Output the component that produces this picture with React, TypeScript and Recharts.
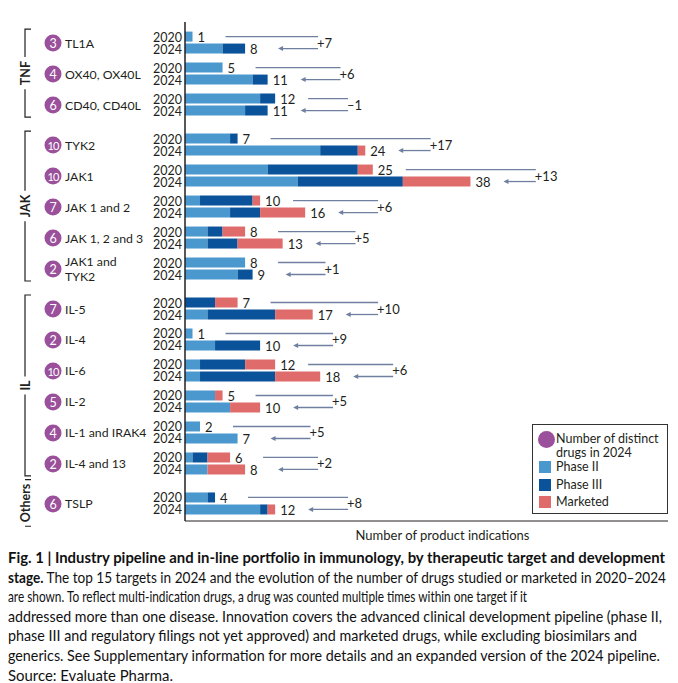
import React from 'react';
import { BarChart, Bar, XAxis, YAxis, Legend } from 'recharts';

// Targets, top to bottom, with their therapeutic group
const targets = [
  'TL1A', 'OX40, OX40L', 'CD40, CD40L',
  'TYK2', 'JAK1', 'JAK 1 and 2', 'JAK 1, 2 and 3', 'JAK1 and\nTYK2',
  'IL-5', 'IL-4', 'IL-6', 'IL-2', 'IL-1 and IRAK4', 'IL-4 and 13',
  'TSLP',
];
const groups = [
  'TNF', 'TNF', 'TNF',
  'JAK', 'JAK', 'JAK', 'JAK', 'JAK',
  'IL', 'IL', 'IL', 'IL', 'IL', 'IL',
  'Others',
];
const groupNames = ['TNF', 'JAK', 'IL', 'Others'];
const distinctDrugs2024 = [3, 4, 6, 10, 10, 7, 6, 2, 7, 2, 10, 5, 4, 2, 6];

// Number of product indications by stage
const phase2_2020 = [1, 5, 10, 6, 11, 2, 3, 8, 0, 1, 2, 4, 2, 1, 3];
const phase3_2020 = [0, 0, 2, 1, 12, 7, 2, 0, 4, 0, 6, 0, 0, 2, 1];
const marketed_2020 = [0, 0, 0, 0, 2, 1, 3, 0, 3, 0, 4, 1, 0, 3, 0];
const phase2_2024 = [5, 9, 8, 18, 15, 6, 3, 7, 3, 4, 2, 6, 7, 3, 10];
const phase3_2024 = [3, 2, 3, 5, 14, 4, 4, 2, 9, 6, 10, 0, 0, 0, 1];
const marketed_2024 = [0, 0, 0, 1, 9, 6, 6, 0, 5, 0, 6, 4, 0, 5, 1];

const captionLines = [
  { bold: 'Fig. 1 | Industry pipeline and in-line portfolio in immunology, by therapeutic target and development', text: '', width: 657 },
  { bold: 'stage.', text: ' The top 15 targets in 2024 and the evolution of the number of drugs studied or marketed in 2020–2024', width: 658 },
  { bold: '', text: 'are shown. To reflect multi-indication drugs, a drug was counted multiple times within one target if it', width: 519 },
  { bold: '', text: 'addressed more than one disease. Innovation covers the advanced clinical development pipeline (phase II,', width: 654 },
  { bold: '', text: 'phase III and regulatory filings not yet approved) and marketed drugs, while excluding biosimilars and', width: 629 },
  { bold: '', text: 'generics. See Supplementary information for more details and an expanded version of the 2024 pipeline.', width: 652 },
  { bold: '', text: 'Source: Evaluate Pharma.', width: 165 },
];

const C = {
  phase2: '#4b98cf',
  phase3: '#0a5299',
  marketed: '#e06b6b',
  purple: '#9a509a',
  arrow: '#6f7fa0',
  text: '#231f20',
};

const FONT = 'Lato, "Open Sans", sans-serif';
const CAP_SIZE = 14.5;
const W = 678;
const H = 545;
const MARGIN = { top: 22, right: 10, bottom: 0, left: 0 };
const Y_AXIS_W = 185;
const X_AXIS_H = 24;
const X_MAX = 64.3;
const Y_MIN = -0.68;
const Y_MAX = 15.42;
const GROUP_GAP = 0.29;
const BAR = 10;
const BAR_GAP = 2;
const PLOT_LEFT = MARGIN.left + Y_AXIS_W;
const PLOT_W = W - PLOT_LEFT - MARGIN.right;
const PLOT_H = H - MARGIN.top - MARGIN.bottom - X_AXIS_H;
const PPU = PLOT_W / X_MAX;
const ROW_PX = PLOT_H / (Y_MAX - Y_MIN);

const data = targets.map((name, i) => {
  const g = groupNames.indexOf(groups[i]);
  return {
    name,
    group: groups[i],
    distinct: distinctDrugs2024[i],
    pos: i + g * GROUP_GAP,
    p2_20: phase2_2020[i],
    p3_20: phase3_2020[i],
    m_20: marketed_2020[i],
    p2_24: phase2_2024[i],
    p3_24: phase3_2024[i],
    m_24: marketed_2024[i],
    total20: phase2_2020[i] + phase3_2020[i] + marketed_2020[i],
    total24: phase2_2024[i] + phase3_2024[i] + marketed_2024[i],
  };
});

let ctx: CanvasRenderingContext2D | null = null;
function textWidth(s: string, font: string) {
  if (!ctx) ctx = document.createElement('canvas').getContext('2d');
  if (!ctx) return s.length * 7;
  ctx.font = font;
  return ctx.measureText(s).width;
}

function GroupBracket({ row, y }: { row: any; y: number }) {
  const members = data.filter(d => d.group === row.group);
  const last = members[members.length - 1];
  let top = y - 14;
  let bottom = y + (last.pos - row.pos) * ROW_PX + 12;
  const mid = (top + bottom) / 2;
  const len = textWidth(row.group, `700 12.5px ${FONT}`);
  if (bottom - top < len + 8) {
    top = mid - len / 2 - 4;
    bottom = mid + len / 2 + 4;
  }
  const gapTop = mid - len / 2 - 4;
  const gapBottom = mid + len / 2 + 4;
  return (
    <g>
      <path
        d={`M31,${top} H25 V${Math.max(top, gapTop)} M25,${Math.min(bottom, gapBottom)} V${bottom} H31`}
        stroke={C.text}
        strokeWidth={1.2}
        fill="none"
      />
      <text
        x={26}
        y={mid}
        transform={`rotate(-90 26 ${mid})`}
        textAnchor="middle"
        dominantBaseline="central"
        fontFamily={FONT}
        fontWeight={700}
        fontSize={12.5}
        fill={C.text}
      >
        {row.group}
      </text>
    </g>
  );
}

// change annotation: 2020 line, 2024 arrow, totals and the +N label
function ChangeArrow({ row, y }: { row: any; y: number }) {
  const end20 = PLOT_LEFT + row.total20 * PPU;
  const end24 = PLOT_LEFT + row.total24 * PPU;
  const y20 = y - (BAR + BAR_GAP) / 2 - 0.5;
  const y24 = y + (BAR + BAR_GAP) / 2 - 0.5;
  const diff = row.total24 - row.total20;
  const label = diff >= 0 ? `+${diff}` : `–${-diff}`;
  const lw = textWidth(label, `13px ${FONT}`);
  const right = Math.max(end20, end24) + 88 - lw;
  const head = end24 + 33;
  return (
    <g>
      <text x={end20 + 5} y={y20 + 0.5} dominantBaseline="central" fontFamily={FONT} fontSize={13} fill={C.text}>
        {row.total20}
      </text>
      <text x={end24 + 5} y={y24 + 0.5} dominantBaseline="central" fontFamily={FONT} fontSize={13} fill={C.text}>
        {row.total24}
      </text>
      <line x1={end20 + 33} x2={right} y1={y20} y2={y20} stroke={C.arrow} strokeWidth={1.3} />
      <line x1={right} x2={head + 4} y1={y24} y2={y24} stroke={C.arrow} strokeWidth={1.3} />
      <path d={`M${head},${y24} L${head + 5},${y24 - 2.5} L${head + 5},${y24 + 2.5} Z`} fill={C.arrow} />
      <text x={right - 1} y={y - 0.5} dominantBaseline="central" fontFamily={FONT} fontSize={13} fill={C.text}>
        {label}
      </text>
    </g>
  );
}

function TargetTick(props: any) {
  const { y, payload } = props;
  const row = data.find(d => Math.abs(d.pos - payload.value) < 1e-6);
  if (!row) return null;
  const lines = row.name.split('\n');
  const isFirst = data.find(d => d.group === row.group) === row;
  const big = row.distinct >= 10;
  return (
    <g>
      {isFirst && <GroupBracket row={row} y={y} />}
      <circle cx={53} cy={y} r={8.5} fill={C.purple} />
      <text
        x={53}
        y={y + 0.5}
        textAnchor="middle"
        dominantBaseline="central"
        fontFamily={FONT}
        fontSize={big ? 11 : 12.5}
        letterSpacing={big ? -1 : 0}
        fill="#fff"
      >
        {row.distinct}
      </text>
      {lines.map((l, k) => (
        <text
          key={k}
          x={65}
          y={y + (k - (lines.length - 1) / 2) * 15}
          dominantBaseline="central"
          fontFamily={FONT}
          fontSize={12.3}
          fill={C.text}
        >
          {l}
        </text>
      ))}
      <text x={182} y={y - 6} textAnchor="end" dominantBaseline="central" fontFamily={FONT} fontSize={12.5} fill={C.text}>2020</text>
      <text x={182} y={y + 6} textAnchor="end" dominantBaseline="central" fontFamily={FONT} fontSize={12.5} fill={C.text}>2024</text>
      <ChangeArrow row={row} y={y} />
    </g>
  );
}

function LegendBox() {
  const items = [
    { label: 'Phase II', color: C.phase2, top: 36 },
    { label: 'Phase III', color: C.phase3, top: 54 },
    { label: 'Marketed', color: C.marketed, top: 71 },
  ];
  const txt: React.CSSProperties = {
    position: 'absolute',
    left: 23,
    fontFamily: FONT,
    fontSize: 12.5,
    color: C.text,
    lineHeight: '14px',
    whiteSpace: 'nowrap',
  };
  return (
    <div style={{ position: 'relative', width: 134, height: 88, border: '1px solid #333', background: '#fff' }}>
      <div style={{ position: 'absolute', left: 5, top: 6, width: 17, height: 17, borderRadius: '50%', background: C.purple }} />
      <div style={{ ...txt, top: 7 }}>
        Number of distinct
        <br />
        drugs in 2024
      </div>
      {items.map(it => (
        <React.Fragment key={it.label}>
          <div style={{ position: 'absolute', left: 6, top: it.top, width: 12, height: 12, background: it.color }} />
          <div style={{ ...txt, top: it.top - 1 }}>{it.label}</div>
        </React.Fragment>
      ))}
    </div>
  );
}

function Caption() {
  // condense all lines by a common factor, then fit each line to its measured width
  const natural = captionLines.map(
    ln => textWidth(ln.bold, `700 ${CAP_SIZE}px Lato`) + textWidth(ln.text, `${CAP_SIZE}px Lato`)
  );
  const full = [0, 1, 3, 4, 5];
  const k = full.reduce((s, i) => s + captionLines[i].width / natural[i], 0) / full.length;
  return (
    <svg width={W} height={143} style={{ position: 'absolute', left: 0, top: 540 }}>
      <g transform={`scale(${k},1)`}>
        {captionLines.map((ln, i) => (
          <text
            key={i}
            x={8 / k}
            y={23 + i * 19.6}
            textLength={ln.width / k}
            lengthAdjust="spacingAndGlyphs"
            fontFamily="Lato, sans-serif"
            fontSize={CAP_SIZE}
            fill="#111"
          >
            {ln.bold && <tspan fontWeight={700}>{ln.bold}</tspan>}
            {ln.text && <tspan>{ln.text}</tspan>}
          </text>
        ))}
      </g>
    </svg>
  );
}

export default function App() {
  return (
    <div style={{ position: 'absolute', left: 0, top: 0, width: W, height: 683, overflow: 'hidden', background: '#fff' }}>
      <BarChart
        width={W}
        height={H}
        data={data}
        layout="vertical"
        margin={MARGIN}
        barGap={BAR_GAP}
        barSize={BAR}
      >
        <XAxis
          type="number"
          domain={[0, X_MAX]}
          allowDataOverflow
          tick={false}
          tickLine={false}
          axisLine={{ stroke: C.text, strokeWidth: 1 }}
          height={X_AXIS_H}
          label={{
            value: 'Number of product indications',
            position: 'center',
            dx: 16,
            dy: 2,
            fill: C.text,
            fontSize: 13,
            fontFamily: FONT,
          }}
        />
        <YAxis
          type="number"
          dataKey="pos"
          domain={[Y_MIN, Y_MAX]}
          allowDataOverflow
          ticks={data.map(d => d.pos)}
          interval={0}
          width={Y_AXIS_W}
          tickLine={false}
          axisLine={{ stroke: C.text, strokeWidth: 1.5 }}
          tick={<TargetTick />}
        />
        <Legend
          layout="vertical"
          align="center"
          verticalAlign="middle"
          wrapperStyle={{ left: 532, top: 424, width: 136, height: 90 }}
          content={() => <LegendBox />}
        />
        <Bar dataKey="p2_20" stackId="y2020" fill={C.phase2} isAnimationActive={false} />
        <Bar dataKey="p3_20" stackId="y2020" fill={C.phase3} isAnimationActive={false} />
        <Bar dataKey="m_20" stackId="y2020" fill={C.marketed} isAnimationActive={false} />
        <Bar dataKey="p2_24" stackId="y2024" fill={C.phase2} isAnimationActive={false} />
        <Bar dataKey="p3_24" stackId="y2024" fill={C.phase3} isAnimationActive={false} />
        <Bar dataKey="m_24" stackId="y2024" fill={C.marketed} isAnimationActive={false} />
      </BarChart>
      <Caption />
    </div>
  );
}
